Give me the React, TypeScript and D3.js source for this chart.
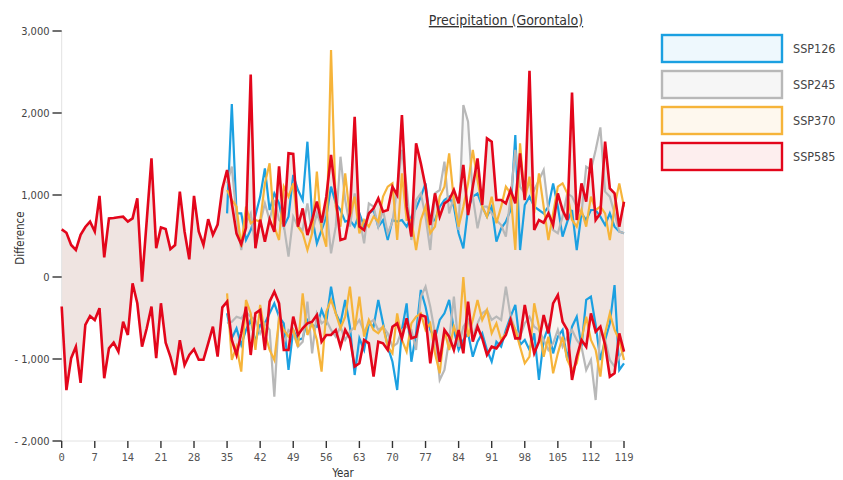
import React from "react";
import * as d3 from "d3";

const seriesNames = ["SSP126", "SSP245", "SSP370", "SSP585"];
const yTicks = [-2000, -1000, 0, 1000, 2000, 3000];
const xTicks = [0, 7, 14, 21, 28, 35, 42, 49, 56, 63, 70, 77, 84, 91, 98, 105, 112, 119];

const ssp585Start = 0;
const ssp585Upper = [
  580, 540, 390, 330, 515, 610, 675, 555, 990, 240,
  715, 720, 728, 735, 675, 715, 960, -57, 690, 1447,
  350, 605, 585, 340, 390, 1040, 555, 215, 990, 555,
  390, 705, 515, 640, 1080, 1305, 900, 530, 400, 600,
  2470, 350, 700, 430, 700, 550, 1350, 614, 1508, 1500,
  614, 837, 512, 695, 919, 663, 980, 1488, 980, 450,
  470, 780, 1955, 614, 573, 776, 837, 959, 797, 817,
  1100, 1000, 1975, 858, 492, 1630, 1386, 1100, 634, 1020,
  736, 898, 939, 1061, 898, 1366, 756, 1102, 1447, 878,
  1691, 1650, 939, 939, 898, 1061, 898, 1508, 939, 2516,
  573, 695, 663, 776, 634, 1020, 817, 695, 2248, 695,
  1142, 919, 1447, 695, 776, 1650, 1081, 1020, 614, 919,
];
const ssp585Lower = [
  -360, -1380, -990, -850, -1290, -585, -475, -525, -380, -1235,
  -870, -800, -910, -545, -707, -77, -320, -850, -625, -360,
  -990, -320, -800, -970, -1195, -770, -1073, -950, -880, -1010,
  -1010, -810, -605, -970, -370, -300, -768, -951, -687, -362,
  -951, -443, -402, -890, -301, -179, -321, -890, -890, -484,
  -707, -626, -565, -545, -463, -789, -707, -707, -646, -850,
  -646, -748, -1093, -1053, -768, -809, -1215, -789, -809, -890,
  -606, -565, -748, -504, -748, -728, -463, -484, -1053, -646,
  -1033, -646, -728, -890, -646, -931, -301, -789, -606, -748,
  -951, -850, -870, -789, -707, -524, -748, -748, -341, -646,
  -931, -789, -463, -687, -321, -220, -545, -646, -1256, -972,
  -768, -850, -443, -667, -606, -829, -1215, -1175, -687, -910,
];

const sspStart = 35;
const ssp126Upper = [
  776, 2110, 776, 776, 451,
  573, 750, 980, 1325, 817, 1020, 898, 614, 736, 1244,
  1061, 939, 1650, 736, 410, 573, 736, 1102, 898, 817,
  675, 695, 614, 776, 614, 776, 817, 614, 695, 451,
  695, 675, 695, 614, 736, 837, 980,
  1142, 675, 695, 858, 939, 980, 858, 533, 350, 837,
  980, 1020, 858, 736, 858, 431, 593, 675, 817, 1731,
  329, 878, 980, 858, 817, 776, 858, 1142, 858, 492,
  675, 817, 329, 776, 695, 817, 817, 736, 634, 776,
  614, 553, 533,
];
const ssp126Lower = [
  -443, -748, -626, -829, -646,
  -524, -789, -585, -565, -443, -321, -484, -565, -1134, -646,
  -768, -748, -524, -585, -606, -402, -545, -118, -443, -565,
  -280, -606, -1195, -748, -890, -565, -606, -280, -565, -850,
  -1033, -1378, -646, -321, -1033, -687, -158,
  -362, -646, -748, -524, -443, -280, -646, -890, -768, -687,
  -972, -789, -687, -890, -1033, -789, -850, -646, -484, -341,
  -829, -768, -890, -687, -1256, -768, -606, -931, -728, -646,
  -1012, -606, -484, -850, -280, -240, -585, -1012, -768, -565,
  -98, -1134, -1053,
];
const ssp245Upper = [
  1142, 1346, 736, 329, 655,
  776, 370, 655, 898, 695, 939, 695, 634, 248, 736,
  614, 573, 898, 533, 776, 614, 858, 289, 614, 1467,
  939, 614, 1020, 736, 410, 898, 858, 614, 817, 533,
  675, 1081, 1549, 1102, 451, 939, 1020,
  736, 329, 1020, 1061, 1407, 776, 980, 573, 2097, 1894,
  980, 593, 858, 858, 776, 695, 634, 492, 980, 1549,
  1102, 1020, 1142, 1061, 1183, 1305, 817, 573, 533, 736,
  1020, 980, 858, 776, 1346, 1305, 1549, 1825, 1041, 980,
  776, 553, 533,
];
const ssp245Lower = [
  -565, -545, -484, -504, -423,
  -484, -524, -687, -565, -646, -1459, -443, -809, -646, -687,
  -850, -789, -301, -931, -443, -565, -524, -646, -728, -606,
  -768, -667, -606, -524, -667, -565, -524, -646, -606, -687,
  -850, -809, -646, -606, -646, -890, -240,
  -118, -362, -687, -1256, -1134, -768, -240, -850, -606, -524,
  -728, -565, -443, -402, -524, -484, -524, -118, -484, -646,
  -728, -565, -484, -606, -646, -768, -890, -809, -646, -850,
  -728, -646, -768, -850, -1134, -1012, -1500, -646, -768, -1012,
  -1093, -972, -890,
];
const ssp370Upper = [
  1061, 939, 858, 370, 858,
  655, 695, 675, 1142, 1386, 614, 451, 1102, 980, 1142,
  614, 533, 329, 533, 1285, 573, 370, 2768, 858, 614,
  1264, 736, 980, 533, 695, 614, 736, 675, 980, 1102,
  1142, 451, 1264, 695, 695, 329, 695,
  858, 533, 614, 980, 1102, 1508, 939, 614, 858, 1142,
  1549, 1183, 858, 736, 980, 655, 858, 1102, 1020, 329,
  1630, 939, 1224, 776, 1264, 858, 451, 776, 1102, 1142,
  1020, 695, 614, 817, 614, 980, 817, 858, 776, 451,
  858, 1142, 858,
];
const ssp370Lower = [
  -199, -1012, -850, -1154, -280,
  -443, -890, -341, -687, -890, -1012, -524, -646, -728, -646,
  -850, -199, -707, -565, -768, -1154, -423, -280, -443, -626,
  -484, -118, -646, -240, -728, -524, -646, -687, -606, -850,
  -931, -443, -768, -911, -565, -484, -443,
  -646, -565, -931, -1175, -646, -890, -606, -768, 0, -728,
  -524, -280, -524, -402, -687, -565, -768, -687, -524, -646,
  -850, -1053, -972, -321, -606, -972, -728, -1175, -931, -728,
  -1012, -1134, -1053, -768, -484, -768, -890, -1215, -687, -443,
  -646, -768, -1012,
];

const strokes = ["#1ba0e1", "#b8b8b8", "#f6b43a", "#e3061b"];
const legendFills = ["#eef8fd", "#f6f6f6", "#fef8ee", "#fdeeee"];
const areaFills = ["#eef6fa", "#f3f3f3", "#fcf5ec", "#efe4e1"];

type Pt = { x: number; lo: number; hi: number };

function build(start: number, upper: number[], lower: number[]): Pt[] {
  return upper.map((v, i) => ({ x: start + i, hi: v, lo: lower[i] }));
}

const seriesData: Pt[][] = [
  build(sspStart, ssp126Upper, ssp126Lower),
  build(sspStart, ssp245Upper, ssp245Lower),
  build(sspStart, ssp370Upper, ssp370Lower),
  build(ssp585Start, ssp585Upper, ssp585Lower),
];

const W = 843;
const H = 480;
const FONT = "'DejaVu Sans Condensed', 'Liberation Sans Narrow', 'Roboto', sans-serif";
const MONO = "'DejaVu Sans Mono', 'Liberation Mono', monospace";

export default function App() {
  const x = d3.scaleLinear().domain([0, 119]).range([61.7, 624]);
  const y = d3.scaleLinear().domain([-2000, 3000]).range([441, 31]);
  const fmt = d3.format(",");

  const area = d3
    .area<Pt>()
    .x((d) => x(d.x))
    .y0((d) => y(d.lo))
    .y1((d) => y(d.hi));
  const lineHi = d3
    .line<Pt>()
    .x((d) => x(d.x))
    .y((d) => y(d.hi));
  const lineLo = d3
    .line<Pt>()
    .x((d) => x(d.x))
    .y((d) => y(d.lo));

  const areaOrder = [0, 1, 2, 3];

  return (
    <svg
      width={W}
      height={H}
      style={{ position: "absolute", left: 0, top: 0, background: "#fff" }}
    >
      {/* areas */}
      {areaOrder.map((k) => (
        <path
          key={"a" + k}
          d={area(seriesData[k]) || ""}
          fill={areaFills[k]}
          fillOpacity={k === 3 ? 1 : 0.6}
          stroke="none"
        />
      ))}

      {/* axes lines */}
      <line x1={x(0)} x2={x(0)} y1={y(3000)} y2={y(-2000)} stroke="#e2e2e2" strokeWidth={1} />
      <line x1={x(0)} x2={x(119)} y1={y(-2000)} y2={y(-2000)} stroke="#e2e2e2" strokeWidth={1} />

      {/* lines */}
      {seriesData.map((s, k) => (
        <g key={"l" + k} fill="none" stroke={strokes[k]} strokeWidth={k === 3 ? 2.6 : 2.2} strokeLinejoin="miter">
          <path d={lineHi(s) || ""} />
          <path d={lineLo(s) || ""} />
        </g>
      ))}

      {/* y axis ticks */}
      {yTicks.map((t) => (
        <g key={"y" + t}>
          <line x1={52.5} x2={x(0)} y1={y(t)} y2={y(t)} stroke="#333" strokeWidth={1.4} />
          <text
            x={49.5}
            y={y(t)}
            dy="0.35em"
            textAnchor="end"
            fontFamily={FONT}
            fontSize={11}
            fill="#444"
          >
            {fmt(t).replace("−", "- ")}
          </text>
        </g>
      ))}

      {/* x axis ticks */}
      {xTicks.map((t) => (
        <g key={"x" + t}>
          <line x1={x(t)} x2={x(t)} y1={y(-2000)} y2={y(-2000) + 7} stroke="#333" strokeWidth={1.4} />
          <text
            x={x(t)}
            y={y(-2000) + 20}
            textAnchor="middle"
            fontFamily={MONO}
            fontSize={10.5}
            fill="#555"
          >
            {t}
          </text>
        </g>
      ))}

      {/* axis labels */}
      <text
        x={343}
        y={477}
        textAnchor="middle"
        fontFamily={FONT}
        fontSize={11.5}
        fill="#333"
      >
        Year
      </text>
      <text
        transform="translate(24,238) rotate(-90)"
        textAnchor="middle"
        fontFamily={FONT}
        fontSize={11.5}
        fill="#333"
      >
        Difference
      </text>

      {/* title */}
      <text
        x={506}
        y={25}
        textAnchor="middle"
        fontFamily={FONT}
        fontSize={14}
        fill="#333"
        textDecoration="underline"
        style={{ textDecoration: "underline" }}
      >
        Precipitation (Gorontalo)
      </text>

      {/* legend */}
      {seriesNames.map((n, k) => (
        <g key={"lg" + k} transform={`translate(662,${35 + k * 36})`}>
          <rect
            x={0}
            y={0}
            width={120}
            height={27}
            fill={legendFills[k]}
            stroke={strokes[k]}
            strokeWidth={2.4}
          />
          <text
            x={131}
            y={13.5}
            dy="0.35em"
            fontFamily={FONT}
            fontSize={12.5}
            fill="#444"
          >
            {n}
          </text>
        </g>
      ))}
    </svg>
  );
}
